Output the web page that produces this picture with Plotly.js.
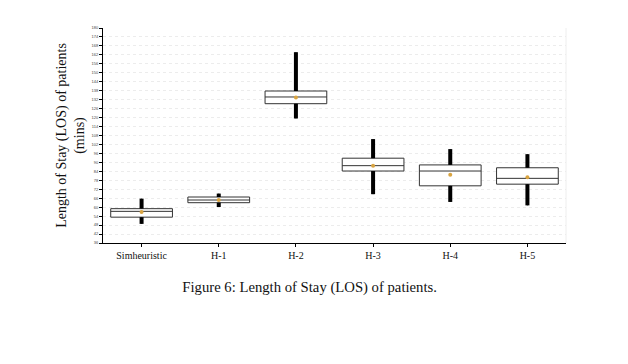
<!DOCTYPE html>
<html>
<head>
<meta charset="utf-8">
<script src="https://cdn.plot.ly/plotly-3.0.1.min.js"></script>
<style>html,body{margin:0;padding:0;background:#fff;}#chart{width:628px;height:364px;}</style>
</head>
<body>
<div id="chart"></div>
<script>
var categories = ['Simheuristic', 'H-1', 'H-2', 'H-3', 'H-4', 'H-5'];
var lowerWhisker = [48.8, 60.1, 119.4, 68.7, 63.5, 61.2];
var q1Values = [53.3, 63.0, 129.3, 84.2, 74.3, 75.4];
var medianValues = [57.2, 64.8, 133.8, 87.8, 84.2, 79.3];
var q3Values = [59.0, 66.8, 137.8, 92.8, 88.3, 86.4];
var upperWhisker = [65.7, 69.1, 163.8, 105.6, 98.9, 95.5];
var meanValues = [56.7, 64.8, 133.4, 87.8, 81.7, 80.0];

// thick whisker segments built from the data arrays
var wx = [], wy = [];
for (var i = 0; i < categories.length; i++) {
  wx.push(categories[i], categories[i], null, categories[i], categories[i], null);
  wy.push(lowerWhisker[i], q1Values[i], null, q3Values[i], upperWhisker[i], null);
}

var traces = [
  {
    type: 'box',
    x: categories,
    q1: q1Values,
    median: medianValues,
    q3: q3Values,
    lowerfence: lowerWhisker,
    upperfence: upperWhisker,
    width: 0.8,
    whiskerwidth: 0,
    fillcolor: '#ffffff',
    line: {color: '#333333', width: 1},
    boxpoints: false,
    hoverinfo: 'skip',
    showlegend: false
  },
  {
    type: 'scatter',
    mode: 'lines',
    x: wx,
    y: wy,
    line: {color: '#000000', width: 4},
    connectgaps: false,
    hoverinfo: 'skip',
    showlegend: false
  },
  {
    type: 'scatter',
    mode: 'markers',
    x: categories,
    y: meanValues,
    marker: {color: '#d9a441', size: 4},
    hoverinfo: 'skip',
    showlegend: false
  }
];

var serif = 'Liberation Serif, Times New Roman, serif';

var layout = {
  width: 628,
  height: 364,
  margin: {l: 103, r: 62, t: 28, b: 121},
  paper_bgcolor: '#ffffff',
  plot_bgcolor: '#ffffff',
  showlegend: false,
  title: {
    text: 'Figure 6: Length of Stay (LOS) of patients.',
    font: {family: serif, size: 14.7, color: '#111111'},
    x: 0.493, xanchor: 'center', xref: 'container',
    y: 0.211, yanchor: 'middle', yref: 'container'
  },
  xaxis: {
    type: 'category',
    range: [-0.5, 5.5],
    showline: true,
    linecolor: '#000000',
    linewidth: 1,
    ticks: 'outside',
    ticklen: 3,
    tickcolor: '#000000',
    showgrid: false,
    zeroline: false,
    tickfont: {family: serif, size: 10, color: '#111111'}
  },
  yaxis: {
    range: [36, 180],
    tick0: 36,
    dtick: 6,
    showline: true,
    linecolor: '#000000',
    linewidth: 1,
    ticks: 'outside',
    ticklen: 3,
    tickcolor: '#000000',
    showgrid: true,
    gridcolor: '#ececec',
    griddash: 'dot',
    gridwidth: 1,
    zeroline: false,
    automargin: false,
    tickfont: {family: 'Liberation Sans, Arial, sans-serif', size: 4, color: '#444444'},
    title: {
      text: 'Length of Stay (LOS) of patients<br>(mins)',
      font: {family: serif, size: 14, color: '#111111'},
      standoff: 3
    }
  },
  shapes: [
    {type: 'line', xref: 'paper', yref: 'paper', x0: 1, x1: 1, y0: 0, y1: 1,
     line: {color: '#eeeeee', width: 1}, layer: 'below'}
  ]
};

Plotly.newPlot('chart', traces, layout, {displayModeBar: false, staticPlot: true});
</script>
</body>
</html>
